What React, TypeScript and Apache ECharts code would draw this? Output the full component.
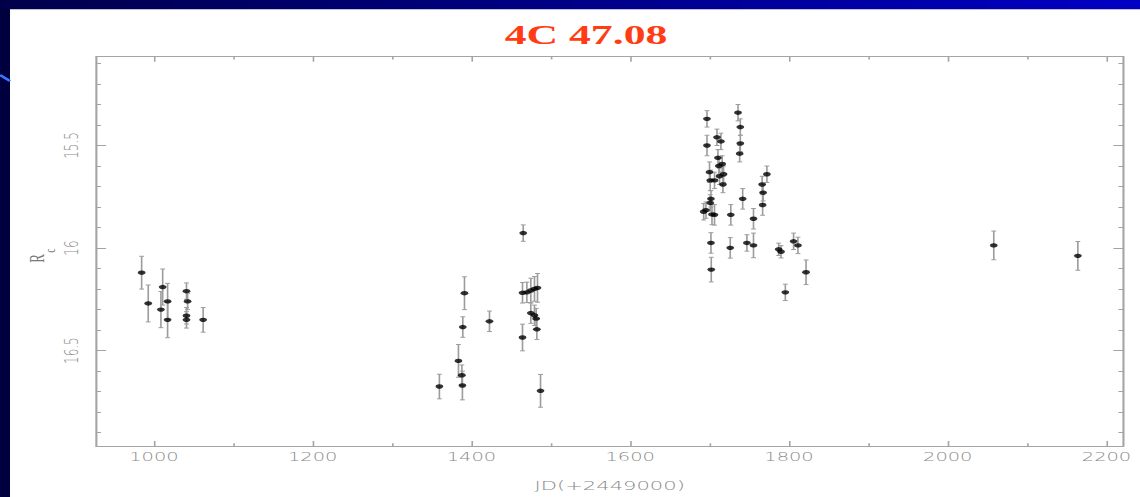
import React, { useEffect, useRef } from "react";
import * as echarts from "echarts";

// Horizontal stretch applied to the whole slide (the plot is rendered narrow, then widened).
const STRETCH = 1.62;
const PAGE_W = 1140;
const PAGE_H = 497;
const W = PAGE_W / STRETCH;
const hx = (v: number) => v / STRETCH;

// Julian date offsets (JD - 2449000)
const jd = [
  984.5, 992.8, 1011, 1008.8, 1017.2, 1017.2, 1041, 1042.4, 1041, 1041, 1062,
  1359.6, 1383.6, 1387.9, 1388.6, 1389.1, 1391.2, 1422.7, 1465.2, 1464.3, 1469.8,
  1474.8, 1479.4, 1483.2, 1474.8, 1479.4, 1481.5, 1482.4, 1464.3, 1487,
  1696.7, 1735.8, 1738.7, 1696.7, 1709.3, 1714.3, 1738.7, 1737.9, 1710.5, 1715.9,
  1711.7, 1699.9, 1772.2, 1717.6, 1712.5, 1700.8, 1706.2, 1766.2, 1716.8, 1767.4,
  1741.7, 1701.7, 1766.8, 1700.8, 1695.4, 1692.5, 1703, 1706.2, 1726.7, 1755.3,
  1701.7, 1726, 1747, 1755.3, 1787, 1790, 1805.8, 1811.3, 1702.1, 1821.5, 1795.4,
  2058, 2163.9,
];

// R_c magnitudes
const rc = [
  16.12, 16.27, 16.19, 16.3, 16.26, 16.35, 16.21, 16.26, 16.33, 16.35, 16.35,
  16.675, 16.55, 16.62, 16.67, 16.385, 16.22, 16.357, 15.927, 16.218, 16.216,
  16.207, 16.199, 16.194, 16.317, 16.328, 16.344, 16.396, 16.436, 16.696,
  15.37, 15.34, 15.41, 15.5, 15.46, 15.48, 15.49, 15.54, 15.56, 15.59,
  15.6, 15.63, 15.64, 15.64, 15.65, 15.67, 15.67, 15.69, 15.69, 15.73,
  15.76, 15.76, 15.79, 15.78, 15.815, 15.823, 15.836, 15.838, 15.838, 15.857,
  15.975, 15.999, 15.975, 15.987, 16.006, 16.018, 15.967, 15.987, 16.105, 16.118, 16.216,
  15.987, 16.038,
];

// 1-sigma errors on R_c
const rcErr = [
  0.08, 0.09, 0.088, 0.088, 0.088, 0.087, 0.04, 0.04, 0.04, 0.04, 0.06,
  0.06, 0.08, 0.05, 0.07, 0.05, 0.08, 0.05, 0.04, 0.05, 0.05,
  0.06, 0.06, 0.07, 0.05, 0.05, 0.05, 0.05, 0.065, 0.08,
  0.04, 0.04, 0.04, 0.05, 0.04, 0.04, 0.04, 0.04, 0.04, 0.04,
  0.04, 0.05, 0.04, 0.04, 0.04, 0.05, 0.04, 0.04, 0.04, 0.04,
  0.05, 0.04, 0.05, 0.04, 0.04, 0.04, 0.05, 0.05, 0.05, 0.05,
  0.05, 0.05, 0.04, 0.06, 0.03, 0.03, 0.04, 0.04, 0.06, 0.06, 0.04,
  0.07, 0.07,
];

const xMajorTicks = [1000, 1200, 1400, 1600, 1800, 2000, 2200];
const xMinorTicks = [1100, 1300, 1500, 1700, 1900, 2100];
const yMajorTicks = [15.5, 16, 16.5];
const yMinorTicks = [
  15.1, 15.2, 15.3, 15.4, 15.6, 15.7, 15.8, 15.9,
  16.1, 16.2, 16.3, 16.4, 16.6, 16.7, 16.8, 16.9,
];

const X_MIN = 927;
const X_MAX = 2221.4;
const Y_MIN = 15.067;
const Y_MAX = 16.965;

const AXIS_GRAY = "#a4a4a4";
const LABEL_GRAY = "#8a8a8a";

function xAxisDef(position: "bottom" | "top", ticks: number[], len: number, labelled: boolean, showLine: boolean) {
  return {
    type: "value",
    position,
    min: X_MIN,
    max: X_MAX,
    axisLine: { show: showLine, onZero: false, lineStyle: { color: AXIS_GRAY, width: 1 } },
    axisTick: { show: true, inside: true, length: len, customValues: ticks, lineStyle: { color: AXIS_GRAY, width: 1 } },
    axisLabel: labelled
      ? {
          show: true,
          customValues: ticks,
          formatter: (v: number) => String(v),
          color: LABEL_GRAY,
          fontSize: 12,
          fontFamily: "DejaVu Sans",
          fontWeight: 200,
          margin: 5,
        }
      : { show: false },
    splitLine: { show: false },
  } as any;
}

function yAxisDef(position: "left" | "right", ticks: number[], len: number, labelled: boolean, showLine: boolean) {
  return {
    type: "value",
    position,
    inverse: true,
    min: Y_MIN,
    max: Y_MAX,
    axisLine: { show: showLine, onZero: false, lineStyle: { color: AXIS_GRAY, width: 1.3 } },
    axisTick: { show: true, inside: true, length: len, customValues: ticks, lineStyle: { color: AXIS_GRAY, width: 1 } },
    axisLabel: labelled
      ? {
          show: true,
          customValues: ticks,
          formatter: (v: number) => String(v),
          rotate: 90,
          color: LABEL_GRAY,
          fontSize: 12,
          fontFamily: "DejaVu Sans",
          fontWeight: 200,
          margin: 9,
        }
      : { show: false },
    splitLine: { show: false },
  } as any;
}

export default function App() {
  const ref = useRef<HTMLDivElement>(null);

  useEffect(() => {
    if (!ref.current) return;
    const chart = echarts.init(ref.current, undefined, { renderer: "svg" });
    const points = jd.map((x, i) => [x, rc[i], rcErr[i]]);

    const bottomAxis = xAxisDef("bottom", xMajorTicks, 5, true, true);
    bottomAxis.name = "JD(+2449000)";
    bottomAxis.nameLocation = "middle";
    bottomAxis.nameGap = 33;
    bottomAxis.nameTextStyle = { color: LABEL_GRAY, fontSize: 13, fontFamily: "DejaVu Sans", fontWeight: 200 };

    chart.setOption({
      animation: false,
      backgroundColor: "#00003e",
      grid: { left: hx(96), right: W - hx(1123), top: 56.7, bottom: PAGE_H - 454, containLabel: false },
      xAxis: [
        bottomAxis,
        xAxisDef("bottom", xMinorTicks, 2.7, false, false),
        xAxisDef("top", xMajorTicks, 5, false, true),
        xAxisDef("top", xMinorTicks, 2.7, false, false),
      ],
      yAxis: [
        yAxisDef("left", yMajorTicks, 6.2, true, true),
        yAxisDef("left", yMinorTicks, 3.1, false, false),
        yAxisDef("right", yMajorTicks, 6.2, false, true),
        yAxisDef("right", yMinorTicks, 3.1, false, false),
      ],
      graphic: [
        {
          type: "rect",
          z: -10,
          shape: { x: 0, y: 0, width: W, height: 9.3 },
          style: {
            fill: new echarts.graphic.LinearGradient(0, 0, 1, 0, [
              { offset: 0, color: "#00004a" },
              { offset: 1, color: "#0000c4" },
            ]),
          },
        },
        {
          type: "rect",
          z: -10,
          shape: { x: hx(10), y: 9.3, width: W, height: PAGE_H },
          style: { fill: "#ffffff" },
        },
        {
          type: "line",
          z: -9,
          shape: { x1: 0, y1: 75, x2: hx(10), y2: 81 },
          style: { stroke: "#3b78ff", lineWidth: 2.2 },
        },
        {
          type: "text",
          z: 100,
          x: hx(586),
          y: 35.2,
          style: {
            text: "4C 47.08",
            fill: "#ff3c14",
            font: "bold 27px 'Liberation Serif'",
            textAlign: "center",
            textVerticalAlign: "middle",
          },
        },
        {
          type: "text",
          z: 100,
          x: hx(37),
          y: 258.5,
          rotation: Math.PI / 2,
          style: {
            text: "R",
            fill: "#7a7a7a",
            font: "13px 'Liberation Serif'",
            textAlign: "center",
            textVerticalAlign: "middle",
          },
        },
        {
          type: "text",
          z: 100,
          x: hx(50),
          y: 250.5,
          rotation: Math.PI / 2,
          style: {
            text: "c",
            fill: "#7a7a7a",
            font: "9px 'Liberation Serif'",
            textAlign: "center",
            textVerticalAlign: "middle",
          },
        },
      ],
      series: [
        {
          type: "custom",
          xAxisIndex: 0,
          yAxisIndex: 0,
          data: points,
          encode: { x: 0, y: 1 },
          z: 1,
          renderItem: (_params: any, api: any) => {
            const x = api.value(0);
            const y = api.value(1);
            const e = api.value(2);
            const a = api.coord([x, y - e]);
            const b = api.coord([x, y + e]);
            const cw = 1.5;
            const st = { stroke: "#9c9c9c", lineWidth: 1 };
            return {
              type: "group",
              children: [
                { type: "line", shape: { x1: a[0], y1: a[1], x2: b[0], y2: b[1] }, style: st },
                { type: "line", shape: { x1: a[0] - cw, y1: a[1], x2: a[0] + cw, y2: a[1] }, style: st },
                { type: "line", shape: { x1: b[0] - cw, y1: b[1], x2: b[0] + cw, y2: b[1] }, style: st },
              ],
            };
          },
        },
        {
          type: "scatter",
          xAxisIndex: 0,
          yAxisIndex: 0,
          data: points.map((p) => [p[0], p[1]]),
          symbol: "circle",
          symbolSize: [4.8, 4.4],
          itemStyle: { color: "#000000" },
          z: 3,
        },
      ],
    });
    return () => chart.dispose();
  }, []);

  return (
    <div
      ref={ref}
      style={{
        position: "fixed",
        left: 0,
        top: 0,
        width: W,
        height: PAGE_H,
        transform: `scaleX(${STRETCH})`,
        transformOrigin: "0 0",
      }}
    />
  );
}
